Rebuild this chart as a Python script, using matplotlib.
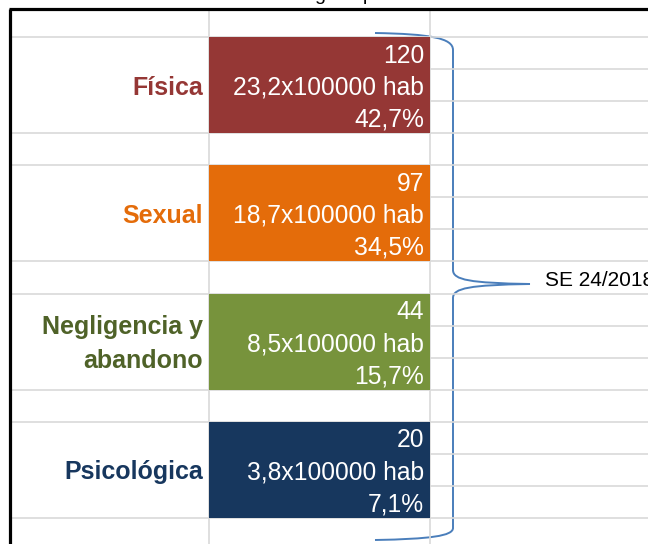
import numpy as np
import matplotlib
matplotlib.use("Agg")
import matplotlib.pyplot as plt
from matplotlib.path import Path
from matplotlib.patches import PathPatch

# ========= datos =========
categorias = ["Física", "Sexual", "Negligencia y\nabandono", "Psicológica"]
casos = [120, 97, 44, 20]
tasas = [23.2, 18.7, 8.5, 3.8]          # x100000 hab
porcentajes = [42.7, 34.5, 15.7, 7.1]
periodo = "SE 24/2018"
titulo = "Notificaciones según tipo de violencia"

colores_barra = ["#953735", "#E46C0A", "#77933C", "#17375E"]
colores_texto = ["#953735", "#E46C0A", "#4F6228", "#17375E"]

plt.rcParams["font.family"] = "Liberation Sans"

W, H = 648, 544
fig = plt.figure(figsize=(W / 100, H / 100), dpi=100)

# ========= fondo tipo hoja de cálculo (coordenadas en píxeles) =========
bg = fig.add_axes([0, 0, 1, 1])
bg.set_xlim(0, W)
bg.set_ylim(H, 0)
bg.axis("off")

grid_col = "#D9D9D9"
top, bottom_ = 37, 518
n_rows = 15
h = (bottom_ - top) / n_rows

# filas completas a la derecha
for i in range(n_rows + 1):
    bg.hlines(top + i * h, 430, W, color=grid_col, lw=1.2)
# celdas combinadas a la izquierda
for k in range(4):
    y0 = top + 4 * k * h
    bg.hlines([y0, y0 + 3 * h], 11, 430, color=grid_col, lw=1.2)
bg.vlines([209, 430], 9, H, color=grid_col, lw=1.2)

# borde negro del gráfico
bg.plot([9, W], [9, 9], color="black", lw=2.3, solid_capstyle="butt")
bg.plot([10, 10], [9, H], color="black", lw=2.3, solid_capstyle="butt")

# título (recortado por el borde superior, como en la captura)
bg.text(330, 0, titulo, ha="center", va="baseline", fontsize=14, color="black")

# llave
verts = [
    (375, 33), (430, 34), (453, 38), (453, 50),
    (453, 270),
    (453, 280), (470, 283), (530, 284),
    (470, 285), (453, 288), (453, 298),
    (453, 528),
    (453, 536), (430, 539), (375, 540),
]
codes = [Path.MOVETO, Path.CURVE4, Path.CURVE4, Path.CURVE4,
         Path.LINETO,
         Path.CURVE4, Path.CURVE4, Path.CURVE4,
         Path.CURVE4, Path.CURVE4, Path.CURVE4,
         Path.LINETO,
         Path.CURVE4, Path.CURVE4, Path.CURVE4]
bg.add_patch(PathPatch(Path(verts, codes), fill=False, edgecolor="#4A7EBB", lw=1.4))
bg.text(545, 280, periodo, ha="left", va="center", fontsize=15, color="black")

# ========= barras =========
ax = fig.add_axes([209 / W, (H - bottom_) / H, 221 / W, (bottom_ - top) / H])
ax.set_xlim(0, 1)
ax.set_ylim(n_rows, 0)
ax.axis("off")

y_pos = 4 * np.arange(len(categorias)) + 1.5
ax.barh(y_pos, [1] * len(categorias), height=3, left=0, color=colores_barra)

dy = 0.08  # pequeño ajuste vertical del texto
for i, y in enumerate(y_pos):
    lineas = [
        f"{casos[i]}",
        f"{tasas[i]:.1f}".replace(".", ",") + "x100000 hab",
        f"{porcentajes[i]:.1f}".replace(".", ",") + "%",
    ]
    for j, txt in enumerate(lineas):
        ax.text(0.973, y - 1 + j + dy, txt, ha="right", va="center",
                fontsize=17.7, color="white")
    ax.text(-0.027, y + dy, categorias[i], ha="right", va="center",
            fontsize=18, fontweight="bold", color=colores_texto[i],
            linespacing=1.5, multialignment="right")

fig.savefig("out.png", dpi=100)
